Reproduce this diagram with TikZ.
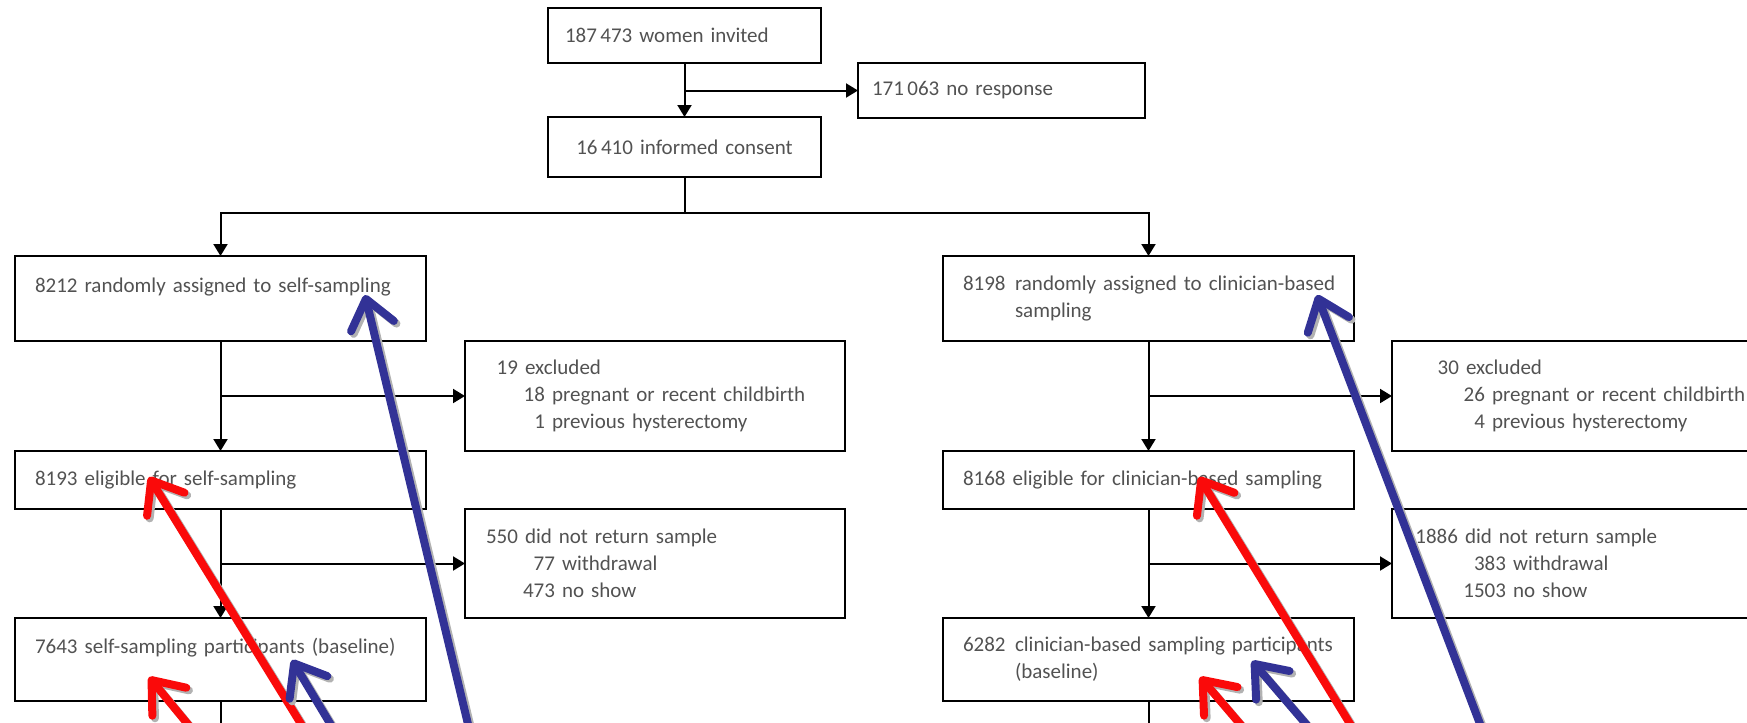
\documentclass[tikz,border=0pt]{standalone}
\usepackage{fontspec}
\setmainfont{Carlito}
\usetikzlibrary{arrows.meta}
\usetikzlibrary{positioning}
\definecolor{markred}{RGB}{250,10,10}
\definecolor{markblue}{RGB}{50,50,150}
\tikzstyle{box} = [
    rectangle,
    draw=black,
    line width=1.4pt,
    outer sep=0pt,
    inner ysep=0pt,
    align=left,
    text=black!68,
    font=\fontsize{10.5}{13.5}\selectfont
]
\tikzstyle{top_box} = [
    box,
    minimum width=136.5pt,
    minimum height=27.5pt,
    text width=119.5pt,
    inner xsep=8.5pt
]
\tikzstyle{arm_box} = [
    box,
    minimum width=205.5pt,
    text width=185.5pt,
    inner xsep=10pt
]
\tikzstyle{out_box} = [
    box,
    minimum width=190pt,
    text width=190pt,
    inner xsep=0pt
]
\tikzstyle{line} = [line width=1pt]
\tikzstyle{flow} = [line width=1pt, -{Triangle[length=6pt, width=7pt]}]
\tikzstyle{pen_arrow} = [
    line width=4pt,
    line cap=round,
    -{Straight Barb[round, length=14pt, width=22pt]}
]
\tikzstyle{pen_shadow} = [pen_arrow, draw=black!30, transform canvas={shift={(1.3pt,-1.3pt)}}]
\tikzstyle{red_pen} = [pen_arrow, draw=markred]
\tikzstyle{blue_pen} = [pen_arrow, draw=markblue]

\begin{document}
\begin{tikzpicture}[x=0.5pt, y=-0.5pt]
\useasboundingbox (0,0) rectangle (1747,723);
\clip (0,0) rectangle (1747,723);

% enrolment
\node [top_box, anchor=north west] (invited) at (548,8) {187\,473 women invited};
\node [top_box, minimum width=143.5pt, text width=129.5pt, inner xsep=7pt,
       below right=0pt and 18.5pt of invited] (noresponse) {171\,063 no response};
\node [top_box, minimum height=30pt, align=center, below=27pt of invited] (consent) {16\,410 informed consent};
\coordinate (split) at ([yshift=-18pt]consent.south);

% self-sampling arm
\node [arm_box, minimum height=42.5pt, anchor=north west] (selfrand) at (15,256)
    {8212 randomly assigned to self-sampling\\\mbox{}};
\node [out_box, minimum height=55pt, below right=0pt and 19.5pt of selfrand] (selfexcl)
    {\makebox[26.5pt][r]{19} excluded\\
     \makebox[40pt][r]{18} pregnant or recent childbirth\\
     \makebox[40pt][r]{1} previous hysterectomy};
\node [arm_box, minimum height=29pt, below=55pt of selfrand] (selfelig)
    {8193 eligible for self-sampling};
\node [out_box, minimum height=54.5pt, below right=0pt and 19.5pt of selfelig] (selfnoret)
    {\makebox[26.5pt][r]{550} did not return sample\\
     \makebox[45pt][r]{77} withdrawal\\
     \makebox[45pt][r]{473} no show};
\node [arm_box, minimum height=41.5pt, below=54.5pt of selfelig] (selfpart)
    {7643 self-sampling participants (baseline)\\\mbox{}};
\coordinate (selfout) at ([yshift=-20pt]selfpart.south);

% clinician-based arm
\node [arm_box, minimum height=42.5pt, right=258.5pt of selfrand] (clinrand)
    {\mbox{\makebox[26pt][l]{8198}randomly assigned to clinician-based}\\\hspace*{26pt}sampling};
\node [out_box, minimum width=200pt, text width=200pt, minimum height=55pt,
       below right=0pt and 19pt of clinrand] (clinexcl)
    {\makebox[33.5pt][r]{30} excluded\\
     \makebox[46.5pt][r]{26} pregnant or recent childbirth\\
     \makebox[46.5pt][r]{4} previous hysterectomy};
\node [arm_box, minimum height=29pt, below=55pt of clinrand] (clinelig)
    {8168 eligible for clinician-based sampling};
\node [out_box, minimum width=200pt, text width=200pt, minimum height=54.5pt,
       below right=0pt and 19pt of clinelig] (clinnoret)
    {\makebox[33pt][r]{1886} did not return sample\\
     \makebox[57pt][r]{383} withdrawal\\
     \makebox[57pt][r]{1503} no show};
\node [arm_box, minimum height=41.5pt, below=54.5pt of clinelig] (clinpart)
    {\mbox{\makebox[26pt][l]{6282}clinician-based sampling participants}\\\hspace*{26pt}(baseline)};
\coordinate (clinout) at ([yshift=-20pt]clinpart.south);

% connectors
\draw [flow] (invited) -- (consent);
\draw [flow] (invited.south |- noresponse.west) -- (noresponse.west);
\draw [flow] (consent.south) -- (split) -| (selfrand.north);
\draw [flow] (split) -| (clinrand.north);
\draw [flow] (selfrand) -- (selfelig);
\draw [flow] (selfrand.south |- selfexcl.west) -- (selfexcl.west);
\draw [flow] (selfelig) -- (selfpart);
\draw [flow] (selfelig.south |- selfnoret.west) -- (selfnoret.west);
\draw [line] (selfpart.south) -- (selfout);
\draw [flow] (clinrand) -- (clinelig);
\draw [flow] (clinrand.south |- clinexcl.west) -- (clinexcl.west);
\draw [flow] (clinelig) -- (clinpart);
\draw [flow] (clinelig.south |- clinnoret.west) -- (clinnoret.west);
\draw [line] (clinpart.south) -- (clinout);

% pen arrows drawn over the chart
\coordinate (b1_tip) at (365,295);   \coordinate (b1_end) at (473,745);
\coordinate (r1_tip) at (149,477);   \coordinate (r1_end) at (314,745);
\coordinate (r2_tip) at (149,677);   \coordinate (r2_end) at (205,745);
\coordinate (b2_tip) at (292,660);   \coordinate (b2_end) at (343,745);
\coordinate (b3_tip) at (1317,295);  \coordinate (b3_end) at (1488,745);
\coordinate (r3_tip) at (1199,477);  \coordinate (r3_end) at (1363,745);
\coordinate (r4_tip) at (1200,677);  \coordinate (r4_end) at (1258,745);
\coordinate (b4_tip) at (1252,661);  \coordinate (b4_end) at (1324,745);
\draw [pen_shadow] (b1_end) -- (b1_tip);
\draw [blue_pen] (b1_end) -- (b1_tip);
\draw [pen_shadow] (r1_end) -- (r1_tip);
\draw [red_pen] (r1_end) -- (r1_tip);
\draw [pen_shadow] (r2_end) -- (r2_tip);
\draw [red_pen] (r2_end) -- (r2_tip);
\draw [pen_shadow] (b2_end) -- (b2_tip);
\draw [blue_pen] (b2_end) -- (b2_tip);
\draw [pen_shadow] (b3_end) -- (b3_tip);
\draw [blue_pen] (b3_end) -- (b3_tip);
\draw [pen_shadow] (r3_end) -- (r3_tip);
\draw [red_pen] (r3_end) -- (r3_tip);
\draw [pen_shadow] (r4_end) -- (r4_tip);
\draw [red_pen] (r4_end) -- (r4_tip);
\draw [pen_shadow] (b4_end) -- (b4_tip);
\draw [blue_pen] (b4_end) -- (b4_tip);
\end{tikzpicture}
\end{document}
